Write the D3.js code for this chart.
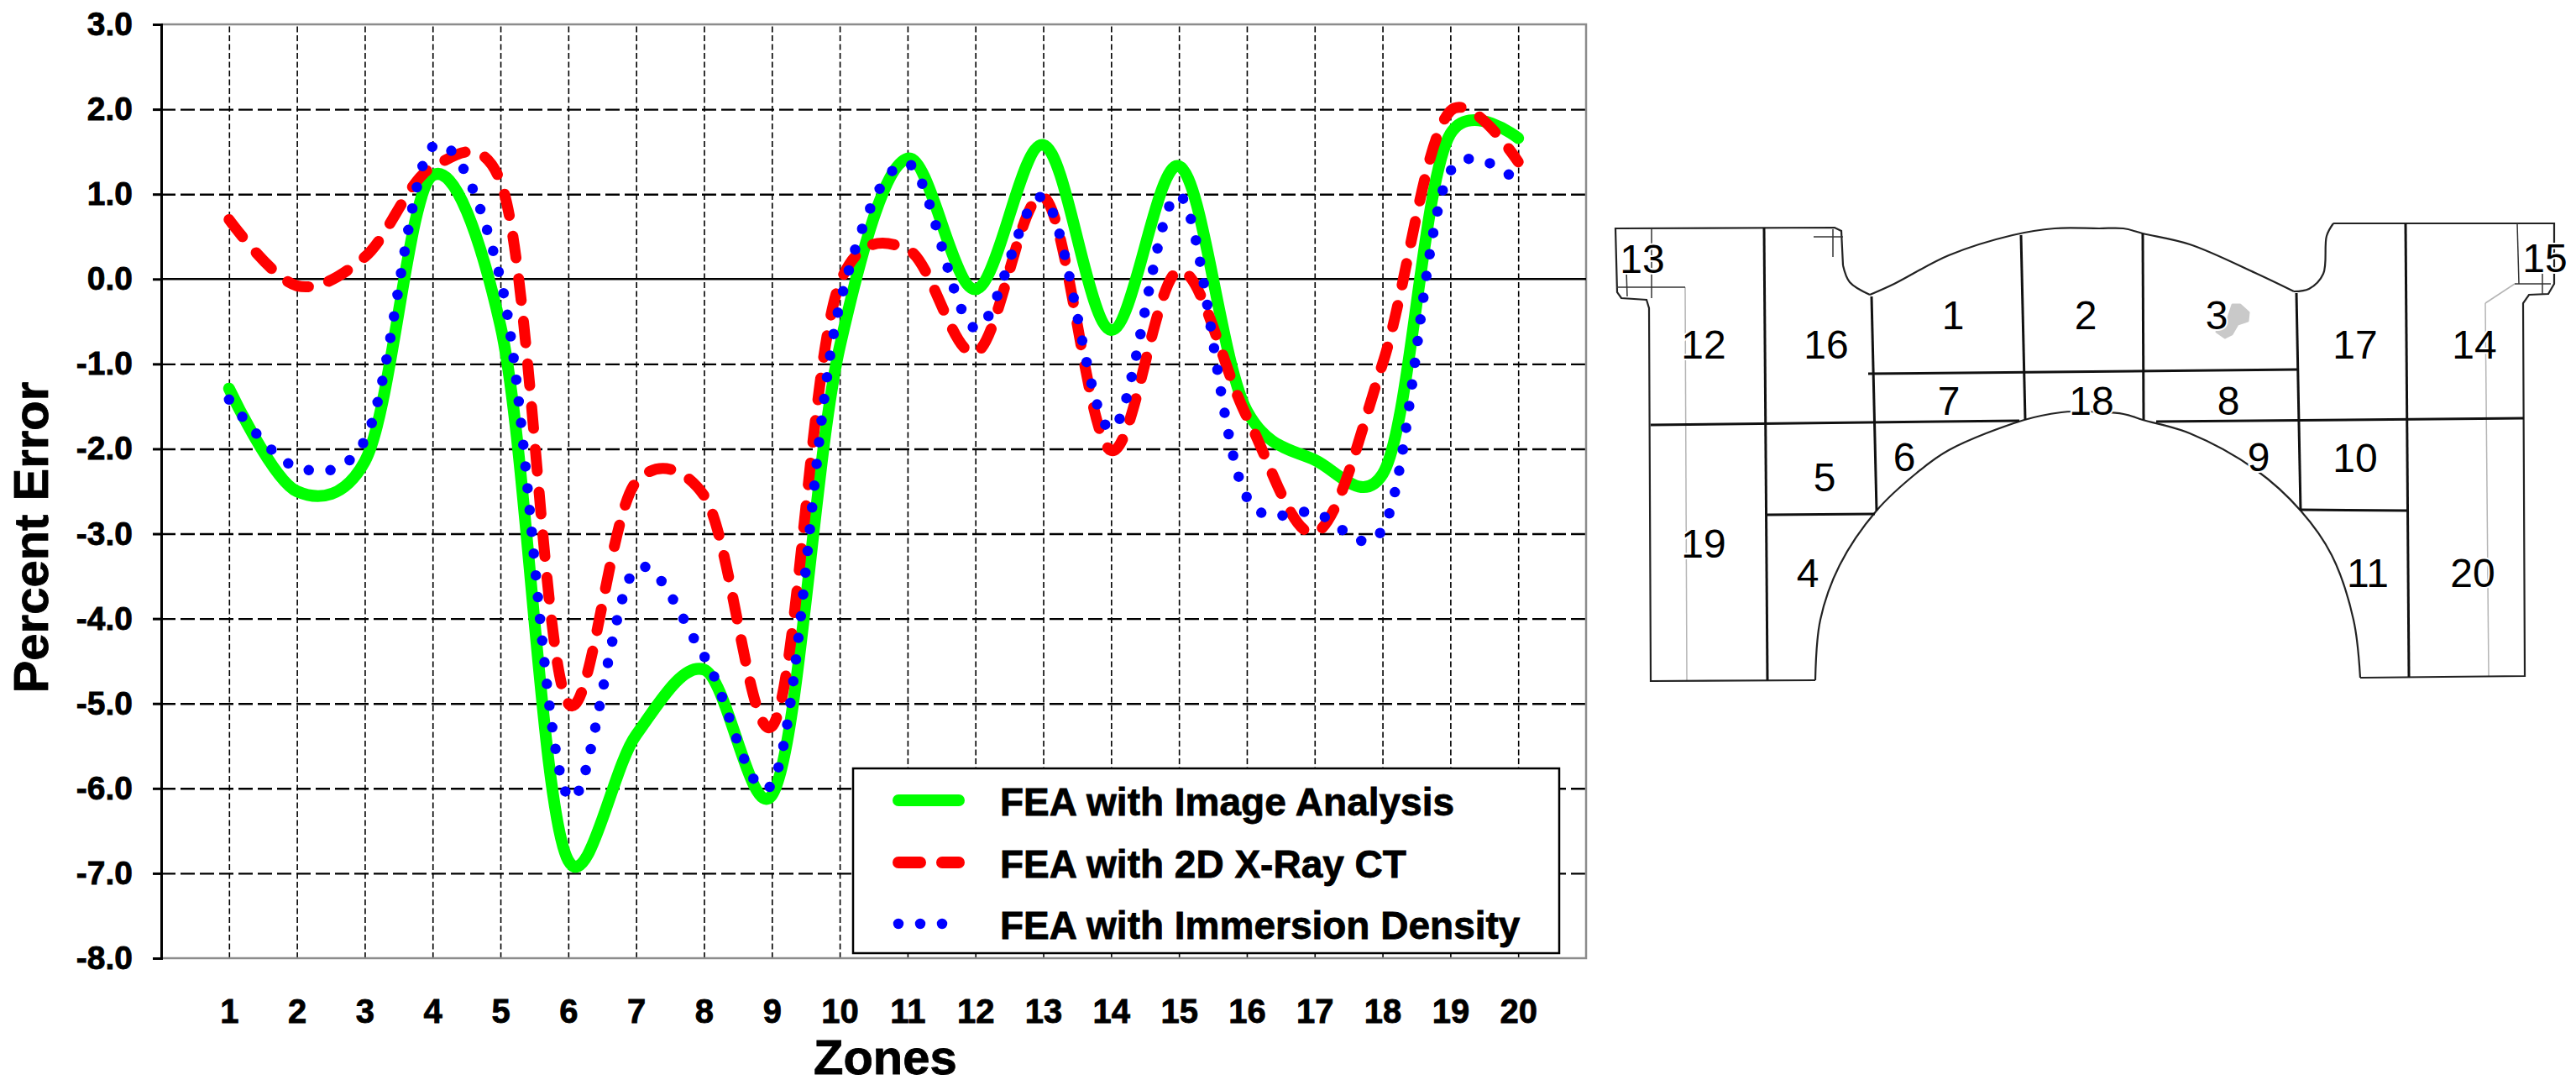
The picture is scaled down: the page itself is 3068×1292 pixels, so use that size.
<!DOCTYPE html>
<html>
<head>
<meta charset="utf-8">
<script src="https://cdn.jsdelivr.net/npm/d3@7"></script>
<style>
  html, body { margin: 0; padding: 0; background: #fff; }
  svg { display: block; }
  text { font-family: "Liberation Sans", Arial, sans-serif; fill: #000; }
  .bold { font-weight: bold; stroke: #000; stroke-width: 0.8px; }
</style>
</head>
<body>
<svg id="chart" width="3068" height="1292"></svg>
<script>
'use strict';

/* ── Data ─────────────────────────────────────────────────── */
const zones = d3.range(1, 21);
const yTicks = [3, 2, 1, 0, -1, -2, -3, -4, -5, -6, -7, -8];

const imageAnalysis = [-1.29, -2.5, -2.15, 1.22, -0.55, -6.85, -5.37, -4.6, -6.08, -0.8,
  1.42, -0.12, 1.58, -0.6, 1.33, -1.55, -2.13, -2.3, 1.71, 1.66];
const xRayCT = [0.7, -0.08, 0.26, 1.32, 1.15, -5.0, -2.39, -2.55, -5.27, -0.05,
  0.35, -0.87, 0.97, -2.02, 0.1, -1.62, -2.99, -1.0, 1.98, 1.38];
const immersion = [-1.42, -2.22, -1.9, 1.56, 0.0, -6.1, -3.41, -4.44, -5.95, -0.3,
  1.36, -0.58, 0.96, -1.77, 0.99, -2.57, -2.75, -2.95, 1.27, 1.14];

const seriesNames = ['FEA with Image Analysis', 'FEA with 2D X-Ray CT', 'FEA with Immersion Density'];
const seriesValues = [imageAnalysis, xRayCT, immersion];
const seriesColors = ['#00ff00', '#ff0000', '#0000ff'];
const seriesDash = [null, '26 25', '0 26'];

/* ── Zone diagram (drawing on the right, page coordinates) ── */
const outlineStraight = [
  [[2195,316],[2193,275],[2185,271],[1924,272],[1926,348],[1931,355],[1961,357],[1964,367],[1966,811],[2162,810]],
  [[2779,266],[3042,266],[3042,338],[3035,350],[3012,351],[3005,361],[3007,805],[2811,807]]
];
const outlineCurved = [
  [[2195,316],[2203,336],[2227,351]],
  [[2227,351],[2256,338],[2321,304],[2397,280],[2447,272],[2500,272],[2529,272],[2552,278],[2608,291],[2686,325],[2732,347]],
  [[2732,347],[2750,344],[2767,326],[2771,281],[2779,266]],
  [[2811,807],[2803,738],[2777,661],[2740,608],[2686,559],[2608,516],[2552,500],[2529,493],[2470,490],[2455,491],
    [2411,500],[2321,536],[2283,563],[2235,608],[2191,673],[2168,738],[2162,810]]
];
const heavyLines = [
  [[2101,271],[2105,810]], [[1966,506],[2405,501]], [[2568,502],[3006,498]], [[2229,353],[2235,608]],
  [[2225,445],[2736,440]], [[2407,280],[2412,500]], [[2552,278],[2553,500]], [[2735,349],[2740,608]],
  [[2105,613],[2233,612]], [[2740,607],[2867,608]], [[2865,266],[2869,806]]
];
const thinLines = [
  [[1967,272],[1967,355]], [[1925,342],[2007,342]], [[1937,322],[1938,353]], [[2160,282],[2195,282]],
  [[2183,273],[2183,306]], [[2998,266],[3000,338]], [[2995,338],[3038,338]], [[3028,322],[3028,350]]
];
const grayLines = [[[2007,342],[2009,810]], [[2960,361],[2964,805]], [[2960,361],[2995,338]]];
const stainPts = [[2659,363],[2668,363],[2678,372],[2677,382],[2665,386],[2658,398],[2650,402],[2640,395],[2652,384]];
const zoneLabels = [
  ['13',1956,308],['12',2029,410],['16',2175,410],['1',2326,375],['2',2484,375],['7',2321,477],['18',2491,477],
  ['6',2268,544],['5',2173,568],['19',2029,647],['4',2153,682],['3',2640,375],['8',2654,477],['9',2690,544],
  ['17',2805,410],['14',2947,410],['10',2805,545],['11',2820,682],['20',2945,682],['15',3031,307]
];

/* ── Layout ───────────────────────────────────────────────── */
const PLOT_L = 192, PLOT_R = 1889, PLOT_T = 29, PLOT_B = 1141;
const svg = d3.select('#chart');
svg.append('rect').attr('width', 3068).attr('height', 1292).attr('fill', '#fff');

const x = d3.scaleLinear().domain([0, 21]).range([PLOT_L, PLOT_R]);
const y = d3.scaleLinear().domain([3, -8]).range([PLOT_T, PLOT_B]);

/* ── Grid ── */
const vGrid = svg.append('g')
  .attr('transform', `translate(0,${PLOT_B})`)
  .call(d3.axisBottom(x).tickValues(zones).tickSize(-(PLOT_B - PLOT_T)).tickFormat(''));
vGrid.select('.domain').remove();
vGrid.selectAll('.tick line').attr('stroke', '#000').attr('stroke-width', 1.6).attr('stroke-dasharray', '7 3.5');

const hGrid = svg.append('g')
  .attr('transform', `translate(${PLOT_L},0)`)
  .call(d3.axisLeft(y).tickValues(yTicks.filter(d => d !== 0 && d !== 3 && d !== -8)).tickSize(-(PLOT_R - PLOT_L)).tickFormat(''));
hGrid.select('.domain').remove();
hGrid.selectAll('.tick line').attr('stroke', '#000').attr('stroke-width', 2.4).attr('stroke-dasharray', '17 6');

/* ── Frame ── */
svg.append('path')
  .attr('d', `M${PLOT_L},${PLOT_T}H${PLOT_R}V${PLOT_B}H${PLOT_L}`)
  .attr('fill', 'none').attr('stroke', '#8c8c8c').attr('stroke-width', 2.5);
svg.append('line')
  .attr('x1', PLOT_L).attr('x2', PLOT_R).attr('y1', y(0)).attr('y2', y(0))
  .attr('stroke', '#000').attr('stroke-width', 2.5);

/* ── Axes ── */
const yAxis = svg.append('g')
  .attr('transform', `translate(${PLOT_L},0)`)
  .call(d3.axisLeft(y).tickValues(yTicks).tickSize(10).tickPadding(24).tickFormat(d => d.toFixed(1)));
yAxis.select('.domain').attr('stroke', '#000').attr('stroke-width', 3);
yAxis.selectAll('.tick line').attr('stroke', '#000').attr('stroke-width', 3);
yAxis.selectAll('.tick text').attr('class', 'bold').attr('font-size', 39)
  .attr('font-family', '"Liberation Sans", Arial, sans-serif').attr('fill', '#000');

const xAxis = svg.append('g')
  .attr('transform', `translate(0,${PLOT_B})`)
  .call(d3.axisBottom(x).tickValues(zones).tickSize(0).tickPadding(49).tickFormat(d3.format('d')));
xAxis.select('.domain').remove();
xAxis.selectAll('.tick text').attr('class', 'bold').attr('font-size', 40)
  .attr('font-family', '"Liberation Sans", Arial, sans-serif').attr('fill', '#000');

svg.append('text').attr('class', 'bold').attr('font-size', 58)
  .attr('text-anchor', 'middle').attr('transform', 'translate(57,640) rotate(-90)')
  .text('Percent Error');
svg.append('text').attr('class', 'bold').attr('font-size', 58)
  .attr('x', 969).attr('y', 1279)
  .text('Zones');

/* ── Series ── */
const line = d3.line()
  .x((d, i) => x(zones[i]))
  .y(d => y(d))
  .curve(d3.curveCatmullRom.alpha(0.2));

seriesValues.forEach((vals, si) => {
  svg.append('path')
    .attr('d', line(vals))
    .attr('fill', 'none')
    .attr('stroke', seriesColors[si])
    .attr('stroke-width', si === 0 ? 14 : (si === 1 ? 13 : 12.5))
    .attr('stroke-linecap', 'round')
    .attr('stroke-linejoin', 'round')
    .attr('stroke-dasharray', seriesDash[si]);
});

/* ── Legend ── */
const legendG = svg.append('g');
legendG.append('rect')
  .attr('x', 1016).attr('y', 915).attr('width', 841).attr('height', 220)
  .attr('fill', '#fff').attr('stroke', '#000').attr('stroke-width', 2.5);

const legendRow = [953, 1027, 1100];
seriesNames.forEach((name, si) => {
  legendG.append('line')
    .attr('x1', 1070).attr('x2', si === 2 ? 1125 : 1142)
    .attr('y1', legendRow[si]).attr('y2', legendRow[si])
    .attr('stroke', seriesColors[si])
    .attr('stroke-width', si === 2 ? 12.5 : 14)
    .attr('stroke-linecap', 'round')
    .attr('stroke-dasharray', si === 1 ? '26 26' : seriesDash[si]);
  legendG.append('text').attr('class', 'bold')
    .attr('x', 1191).attr('y', legendRow[si] + 18)
    .attr('font-size', 46)
    .text(name);
});

/* ── Zone diagram ── */
const diagram = svg.append('g').attr('fill', 'none');
const pathOf = d3.line();
const arcOf = d3.line().curve(d3.curveCatmullRom.alpha(0.5));

diagram.append('path').attr('d', d3.line().curve(d3.curveLinearClosed)(stainPts))
  .attr('fill', '#c9c9c9').attr('stroke', '#c9c9c9').attr('stroke-width', 3).attr('stroke-linejoin', 'round');
grayLines.forEach(pts => {
  diagram.append('path').attr('d', pathOf(pts)).attr('stroke', '#b5b5b5').attr('stroke-width', 1.5);
});
outlineStraight.forEach(pts => {
  diagram.append('path').attr('d', pathOf(pts)).attr('stroke', '#222').attr('stroke-width', 2.2);
});
outlineCurved.forEach(pts => {
  diagram.append('path').attr('d', arcOf(pts)).attr('stroke', '#222').attr('stroke-width', 2.2);
});
thinLines.forEach(pts => {
  diagram.append('path').attr('d', pathOf(pts)).attr('stroke', '#333').attr('stroke-width', 1.5);
});
heavyLines.forEach(pts => {
  diagram.append('path').attr('d', pathOf(pts)).attr('stroke', '#111').attr('stroke-width', 3);
});

svg.append('g').selectAll('text').data(zoneLabels).join('text')
  .attr('x', d => d[1]).attr('y', d => d[2])
  .attr('dy', '.36em')
  .attr('text-anchor', 'middle')
  .attr('font-size', 48)
  .attr('stroke', '#fff').attr('stroke-width', 4).attr('paint-order', 'stroke')
  .text(d => d[0]);
</script>
</body>
</html>
